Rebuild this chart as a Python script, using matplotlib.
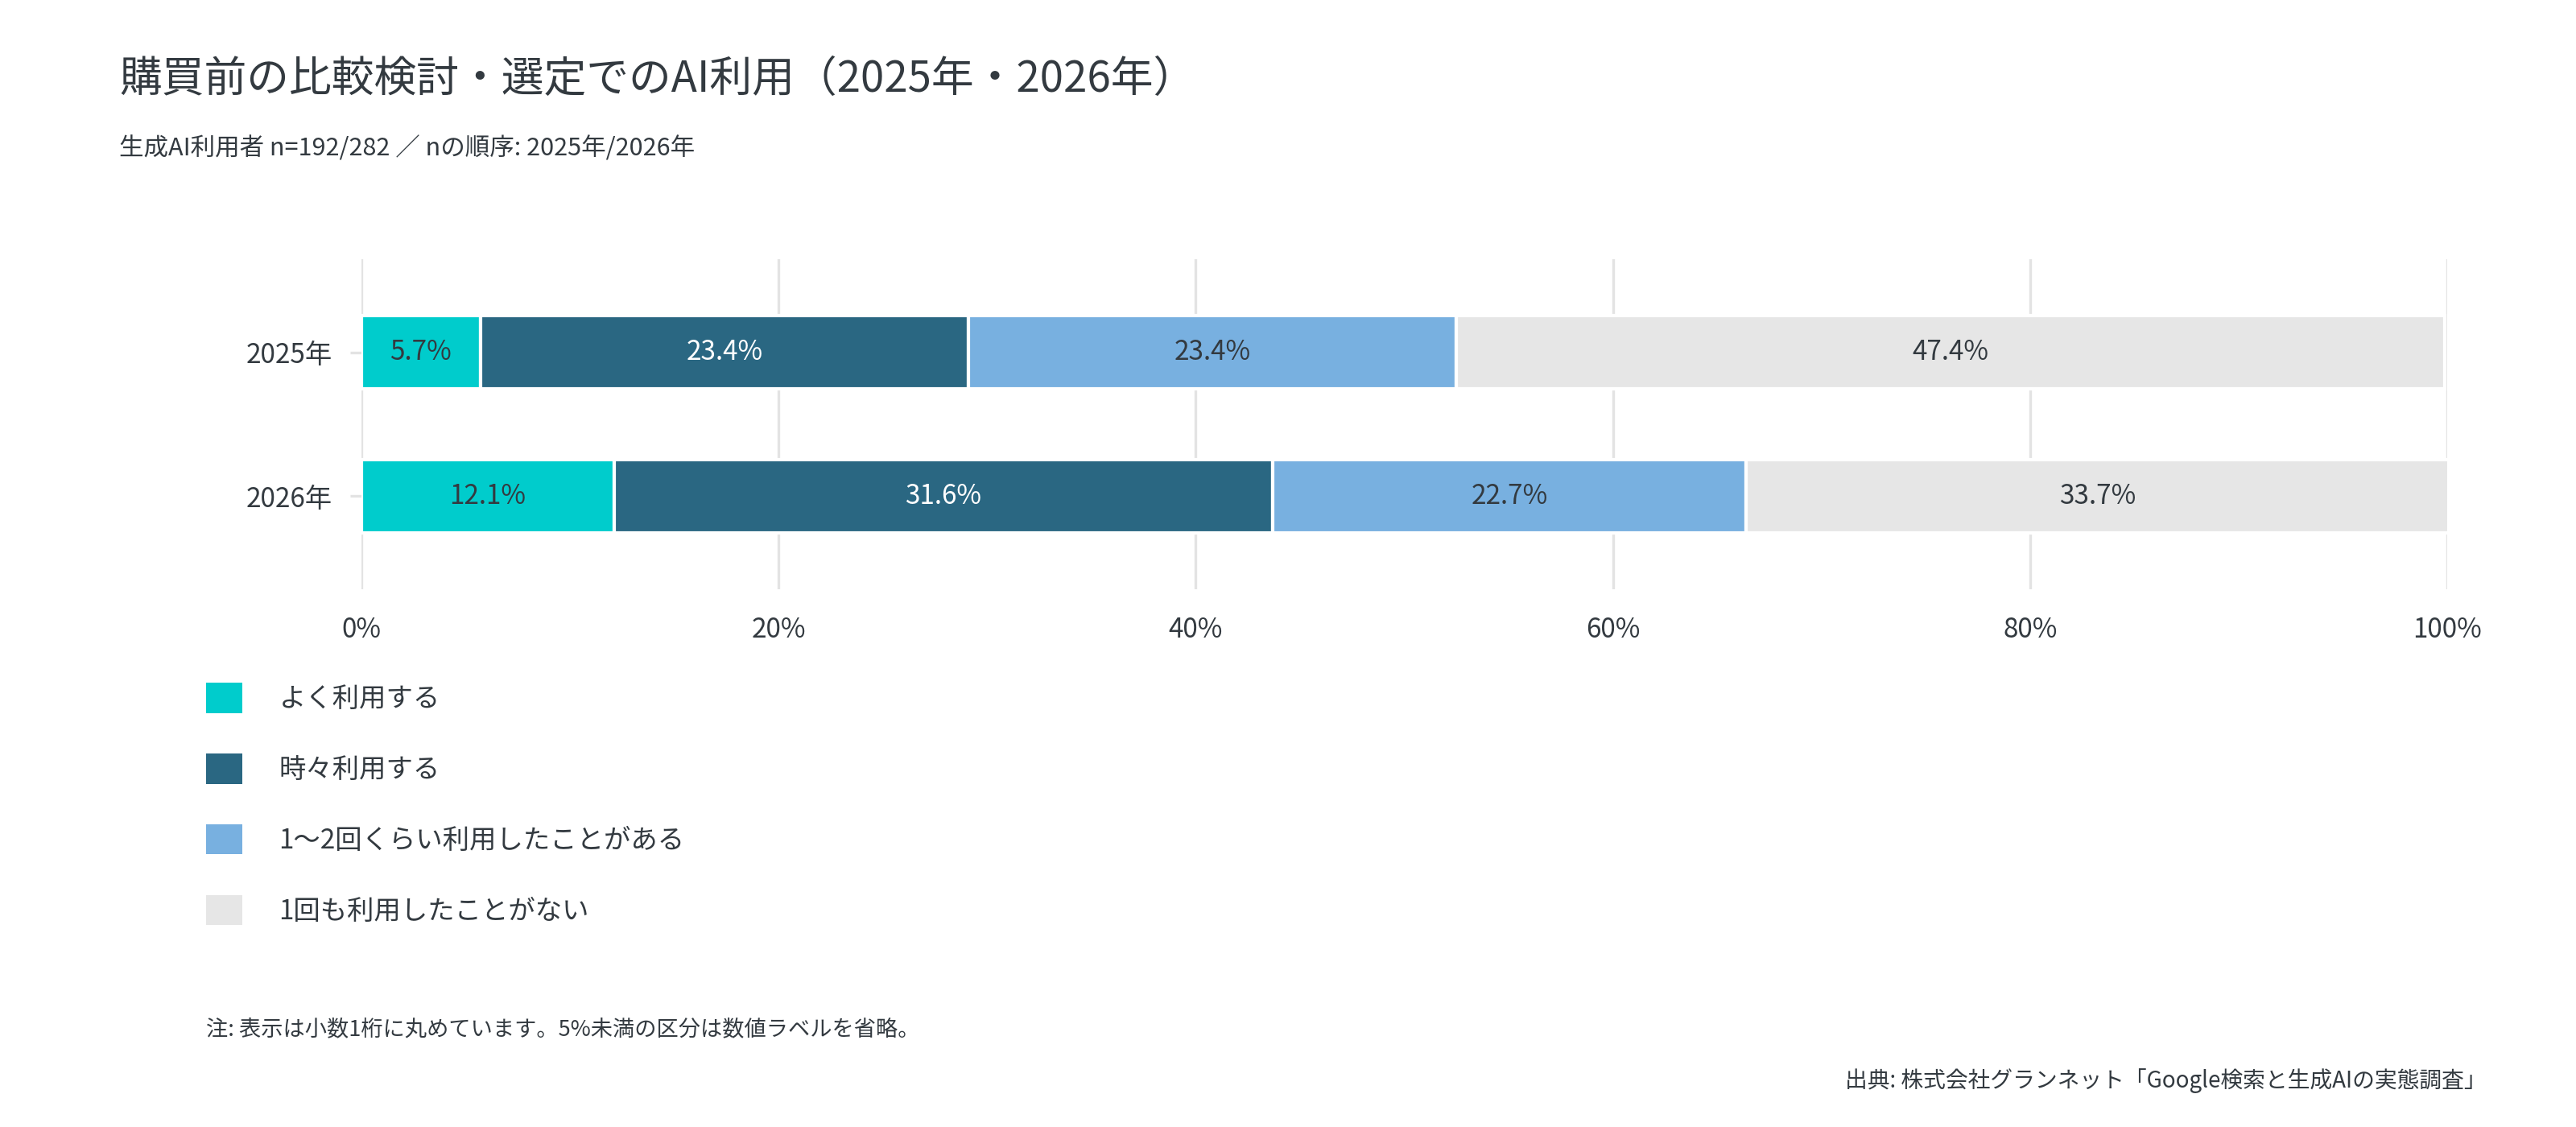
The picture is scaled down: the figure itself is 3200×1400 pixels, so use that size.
import matplotlib.pyplot as plt
from matplotlib.ticker import PercentFormatter

plt.rcParams['font.family'] = ['Noto Sans CJK JP', 'DejaVu Sans']

years = ['2025年', '2026年']
categories = ['よく利用する', '時々利用する', '1〜2回くらい利用したことがある', '1回も利用したことがない']
often = [5.7, 12.1]
sometimes = [23.4, 31.6]
once_or_twice = [23.4, 22.7]
never = [47.4, 33.7]
series = [often, sometimes, once_or_twice, never]
colors = ['#00cccc', '#2a6782', '#78b0e0', '#e6e6e6']
label_colors = ['#333a40', 'white', '#333a40', '#333a40']

text_color = '#333a40'

fig = plt.figure(figsize=(16, 7), dpi=200)
ax = fig.add_axes([449 / 3200, 1 - 732 / 1400, (3040 - 449) / 3200, (732 - 322) / 1400])

y = list(range(len(years)))
left = [0.0] * len(years)
handles = []
for vals, col, lcol, name in zip(series, colors, label_colors, categories):
    bars = ax.barh(y, vals, left=left, height=0.51, color=col, edgecolor='white',
                   linewidth=1.5, label=name, zorder=2)
    handles.append(bars)
    for yi, (v, l) in enumerate(zip(vals, left)):
        # labels under 5% are omitted
        if v >= 5:
            ax.text(l + v / 2, yi, f'{v:.1f}%', ha='center', va='center',
                    fontsize=12, color=lcol, zorder=3)
    left = [a + b for a, b in zip(left, vals)]

ax.set_xlim(0, 100)
ax.set_ylim(1.65, -0.65)
ax.set_yticks(y)
ax.set_yticklabels(years)
ax.set_xticks([0, 20, 40, 60, 80, 100])
ax.xaxis.set_major_formatter(PercentFormatter(decimals=0))
ax.grid(axis='x', color='#e3e3e3', linewidth=1.2, zorder=0)
for s in ax.spines.values():
    s.set_visible(False)
ax.tick_params(axis='x', length=0, pad=12, labelsize=12, labelcolor=text_color)
ax.tick_params(axis='y', length=5, width=1.2, color='#e3e3e3', pad=8,
               labelsize=12, labelcolor=text_color)

fig.text(148 / 3200, 1 - 98 / 1400, '購買前の比較検討・選定でのAI利用（2025年・2026年）',
         fontsize=19, color=text_color, va='center', ha='left')
fig.text(148 / 3200, 1 - 185 / 1400, '生成AI利用者 n=192/282 ／ nの順序: 2025年/2026年',
         fontsize=11, color=text_color, va='center', ha='left')

leg = fig.legend(handles=handles, labels=categories, loc='upper left',
                 bbox_to_anchor=(243 / 3200, 1 - 835 / 1400), frameon=False,
                 fontsize=12, labelcolor=text_color, handlelength=1.35,
                 handleheight=1.35, handletextpad=1.35, labelspacing=1.5,
                 borderaxespad=0)
for h in leg.legend_handles:
    h.set_edgecolor('none')

fig.text(256 / 3200, 1 - 1279 / 1400, '注: 表示は小数1桁に丸めています。5%未満の区分は数値ラベルを省略。',
         fontsize=9.8, color=text_color, va='center', ha='left')
fig.text(3089 / 3200, 1 - 1343 / 1400, '出典: 株式会社グランネット「Google検索と生成AIの実態調査」',
         fontsize=10, color=text_color, va='center', ha='right')

fig.savefig('out.png', dpi=200, facecolor='white')
